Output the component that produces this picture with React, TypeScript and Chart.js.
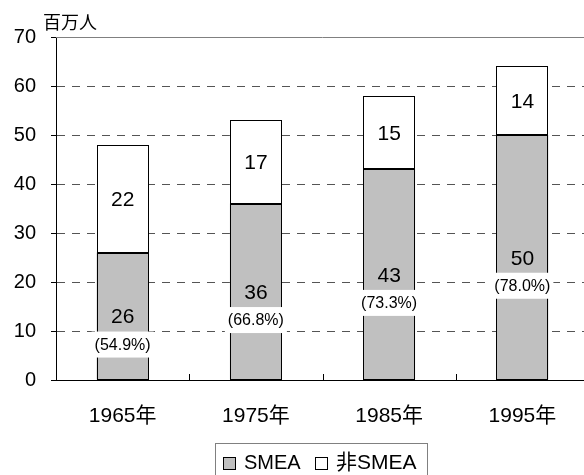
import React, { useEffect, useRef } from "react";
import { Chart, registerables } from "chart.js";
Chart.register(...registerables);

const FONT = "'Liberation Sans', Arial, 'Noto Sans CJK JP', sans-serif";

const categories = ["1965年", "1975年", "1985年", "1995年"];
const smea = [26, 36, 43, 50];
const nonSmea = [22, 17, 15, 14];
const smeaShare = ["(54.9%)", "(66.8%)", "(73.3%)", "(78.0%)"];
const seriesNames = ["SMEA", "非SMEA"];
const unitLabel = "百万人";
const yMin = 0;
const yMax = 70;
const yStep = 10;

const GRAY = "#c0c0c0";

function outline(ctx: any, el: any) {
  const l = Math.round(el.x - el.width / 2) + 0.5;
  const r = Math.round(el.x + el.width / 2) - 0.5;
  const t = Math.round(Math.min(el.y, el.base)) + 0.5;
  const b = Math.round(Math.max(el.y, el.base)) - 0.5;
  ctx.strokeRect(l, t, r - l, b - t);
}

const overlay = {
  id: "overlay",
  afterDatasetsDraw(chart: any) {
    const { ctx, chartArea: a } = chart;
    ctx.save();
    ctx.setLineDash([]);
    const m0 = chart.getDatasetMeta(0);
    const m1 = chart.getDatasetMeta(1);
    // crisp bar outlines
    ctx.strokeStyle = "#000";
    ctx.lineWidth = 1;
    m0.data.forEach((el: any) => outline(ctx, el));
    m1.data.forEach((el: any) => outline(ctx, el));
    // solid top border
    ctx.strokeStyle = "#808080";
    ctx.beginPath();
    ctx.moveTo(a.left, Math.round(a.top) + 0.5);
    ctx.lineTo(a.right, Math.round(a.top) + 0.5);
    ctx.stroke();
    // x axis line + inside category ticks
    ctx.strokeStyle = "#000";
    ctx.beginPath();
    ctx.moveTo(a.left, Math.round(a.bottom) + 0.5);
    ctx.lineTo(a.right, Math.round(a.bottom) + 0.5);
    ctx.stroke();
    const n = categories.length;
    const w = (a.right - a.left) / n;
    for (let i = 1; i < n; i++) {
      const x = Math.round(a.left + i * w) + 0.5;
      ctx.beginPath();
      ctx.moveTo(x, a.bottom);
      ctx.lineTo(x, a.bottom - 6);
      ctx.stroke();
    }
    // value labels
    ctx.textAlign = "center";
    ctx.textBaseline = "middle";
    m1.data.forEach((el: any, i: number) => {
      const yc = (el.y + el.base) / 2 + 1.5;
      ctx.font = `21px ${FONT}`;
      ctx.fillStyle = "#000";
      ctx.fillText(String(nonSmea[i]), el.x, yc);
    });
    m0.data.forEach((el: any, i: number) => {
      const yc = (el.y + el.base) / 2 + 1.5;
      ctx.font = `21px ${FONT}`;
      ctx.fillStyle = "#000";
      ctx.fillText(String(smea[i]), el.x, yc);
      ctx.font = `16px ${FONT}`;
      const tw = ctx.measureText(smeaShare[i]).width;
      const py = yc + 27;
      ctx.fillStyle = "#fff";
      ctx.fillRect(el.x - tw / 2 - 3, py - 13, tw + 6, 26);
      ctx.fillStyle = "#000";
      ctx.fillText(smeaShare[i], el.x, py + 1);
    });
    ctx.restore();
  },
  afterDraw(chart: any) {
    const { ctx } = chart;
    ctx.save();
    ctx.setLineDash([]);
    // unit label
    ctx.fillStyle = "#000";
    ctx.font = `18px ${FONT}`;
    ctx.textAlign = "left";
    ctx.textBaseline = "middle";
    ctx.fillText(unitLabel, 43, 24);
    // legend
    ctx.strokeStyle = "#808080";
    ctx.lineWidth = 1;
    ctx.strokeRect(215.5, 443.5, 212, 45);
    ctx.font = `20px ${FONT}`;
    ctx.textBaseline = "middle";
    const ly = 463;
    ctx.fillStyle = GRAY;
    ctx.fillRect(223.5, 457.5, 12, 12);
    ctx.strokeStyle = "#000";
    ctx.strokeRect(223.5, 457.5, 12, 12);
    ctx.fillStyle = "#000";
    ctx.fillText(seriesNames[0], 244, ly);
    ctx.fillStyle = "#fff";
    ctx.fillRect(315.5, 457.5, 12, 12);
    ctx.strokeRect(315.5, 457.5, 12, 12);
    ctx.fillStyle = "#000";
    ctx.font = `21px ${FONT}`;
    ctx.fillText(seriesNames[1], 336, ly);
    ctx.restore();
  },
};

export default function App() {
  const ref = useRef<HTMLCanvasElement | null>(null);
  useEffect(() => {
    if (!ref.current) return;
    const chart = new Chart(ref.current, {
      type: "bar",
      data: {
        labels: categories,
        datasets: [
          {
            label: seriesNames[0],
            data: smea,
            backgroundColor: GRAY,
            borderWidth: 0,
            categoryPercentage: 1,
            barPercentage: 0.39,
          },
          {
            label: seriesNames[1],
            data: nonSmea,
            backgroundColor: "#fff",
            borderWidth: 0,
            categoryPercentage: 1,
            barPercentage: 0.39,
          },
        ],
      },
      options: {
        responsive: false,
        animation: false,
        devicePixelRatio: 1,
        layout: { padding: { top: 37, right: 11, left: 0, bottom: 0 } },
        plugins: {
          legend: { display: false },
          tooltip: { enabled: false },
          title: { display: false },
        },
        scales: {
          x: {
            stacked: true,
            grid: { display: false },
            border: { display: true, color: "#000", width: 1 },
            ticks: {
              color: "#000",
              padding: 16,
              font: { family: FONT, size: 21 },
            },
            afterFit: (s: any) => {
              s.height = 95;
            },
          },
          y: {
            stacked: true,
            min: yMin,
            max: yMax,
            ticks: {
              stepSize: yStep,
              color: "#000",
              padding: 15,
              font: { family: FONT, size: 20 },
            },
            grid: {
              color: "#555",
              lineWidth: 1,
              tickLength: 5,
              tickColor: "#000",
            },
            border: { display: true, color: "#000", width: 1, dash: [8, 7] },
            afterFit: (s: any) => {
              s.width = 56;
            },
          },
        },
      },
      plugins: [overlay],
    });
    return () => chart.destroy();
  }, []);
  return (
    <div
      style={{
        position: "fixed",
        left: 0,
        top: 0,
        width: 584,
        height: 475,
        overflow: "hidden",
        background: "#fff",
      }}
    >
      <canvas ref={ref} width={600} height={475} style={{ width: 600, height: 475, display: "block" }} />
    </div>
  );
}
